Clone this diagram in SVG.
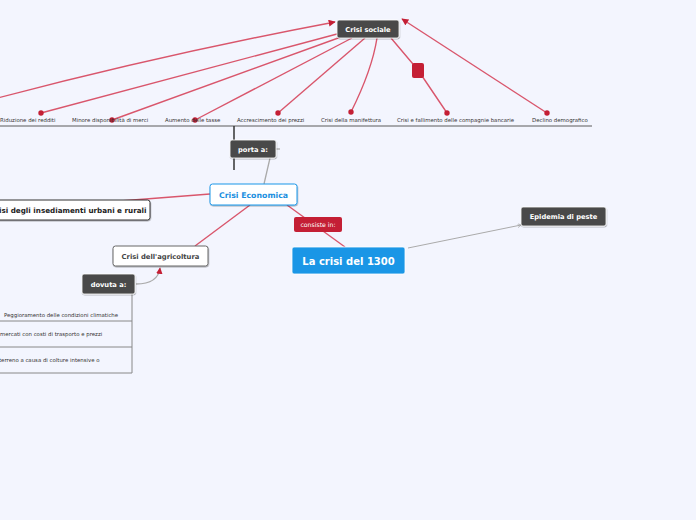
<svg xmlns="http://www.w3.org/2000/svg" width="696" height="520" viewBox="0 0 696 520">
<defs>
<filter id="sh" x="-20%" y="-20%" width="140%" height="160%"><feDropShadow dx="0.5" dy="1" stdDeviation="0.6" flood-color="#000" flood-opacity="0.3"/></filter>
<marker id="ar" viewBox="0 0 10 10" refX="9" refY="5" markerWidth="5" markerHeight="5" orient="auto"><path d="M0,0 L10,5 L0,10 z" fill="#c41f35"/></marker>
<marker id="ag" viewBox="0 0 10 10" refX="9" refY="5" markerWidth="4" markerHeight="4" orient="auto"><path d="M0,0 L10,5 L0,10" fill="none" stroke="#999" stroke-width="1.5"/></marker>
<style>
text{font-family:"DejaVu Sans","Liberation Sans",sans-serif}
.red{stroke:#d9566c;stroke-width:1.4;fill:none}
.gray{stroke:#aaa;stroke-width:1.3;fill:none}
.dot{fill:#c41f35}
.dark{fill:#4a4a48;stroke:#fff;stroke-width:0.8}
.wt{fill:#fff;font-weight:bold;font-size:6.7px}
.lbl{font-size:5.4px;fill:#333}
.ul{stroke:#5a5a5a;stroke-width:1}
</style>
</defs>
<rect width="696" height="520" fill="#f3f5fe"/>
<g id="connectors">
<path class="red" d="M-10,100 Q160,55 335,22" marker-end="url(#ar)"/>
<path class="red" d="M337,34 L41,113"/>
<path class="red" d="M341,37 L112,120"/>
<path class="red" d="M352,38 L195,120"/>
<path class="red" d="M365,38 L278,113"/>
<path class="red" d="M377,38 Q372,70 351,112"/>
<path class="red" d="M391,38 L418,70 L447,113"/>
<path class="red" d="M547,113 L402,19" marker-end="url(#ar)"/>
<line class="ul" x1="0" y1="126" x2="592" y2="126"/>
<line x1="234" y1="126" x2="234" y2="170" stroke="#333" stroke-width="1.5"/>
<path class="gray" d="M276,149 L280,149"/>
<path class="gray" d="M270,158 L264,184"/>
<path class="red" d="M210,194 L120,201"/>
<path class="red" d="M250,205 L195,246"/>
<path class="red" d="M287,205 L345,247"/>
<path d="M408,248 L521,225" stroke="#aaa" stroke-width="1" fill="none" marker-end="url(#ag)"/>
<path class="gray" d="M136,284 Q158,284 160,268" marker-end="url(#ar)"/>
<line x1="132" y1="294" x2="132" y2="373" stroke="#888" stroke-width="1"/>
<line x1="0" y1="321" x2="132" y2="321" stroke="#888" stroke-width="1"/>
<line x1="0" y1="347" x2="132" y2="347" stroke="#888" stroke-width="1"/>
<line x1="0" y1="373" x2="132" y2="373" stroke="#888" stroke-width="1"/>
</g>
<g id="dots">
<circle class="dot" cx="41" cy="113" r="2.7"/>
<circle class="dot" cx="112" cy="120" r="2.7"/>
<circle class="dot" cx="195" cy="120" r="2.7"/>
<circle class="dot" cx="278" cy="113" r="2.7"/>
<circle class="dot" cx="351" cy="112" r="2.7"/>
<circle class="dot" cx="447" cy="113" r="2.7"/>
<circle class="dot" cx="547" cy="113" r="2.7"/>
<rect x="412" y="63" width="12" height="15" rx="2" fill="#c41f35"/>
</g>
<g id="crisi-sociale"><rect class="dark" x="337" y="20" width="62" height="18" rx="2" filter="url(#sh)"/><text class="wt" x="368" y="31.8" text-anchor="middle">Crisi sociale</text></g>
<g id="labels-top">
<text class="lbl" x="0" y="122">Riduzione dei redditi</text>
<text class="lbl" x="72" y="122">Minore disponibilità di merci</text>
<text class="lbl" x="165" y="122">Aumento delle tasse</text>
<text class="lbl" x="237" y="122">Accrescimento dei prezzi</text>
<text class="lbl" x="321" y="122">Crisi della manifettura</text>
<text class="lbl" x="397" y="122">Crisi e fallimento delle compagnie bancarie</text>
<text class="lbl" x="532" y="122">Declino demografico</text>
</g>
<g id="porta"><rect class="dark" x="230" y="140" width="46" height="18" rx="2" filter="url(#sh)"/><text class="wt" x="253" y="151.8" text-anchor="middle">porta a:</text></g>
<g id="crisi-economica"><rect x="210" y="184" width="87" height="21" rx="2.5" fill="#fff" stroke="#1b96e8" stroke-width="1" filter="url(#sh)"/><text x="253.5" y="197.6" text-anchor="middle" font-size="7.8" font-weight="bold" fill="#1b8fe0">Crisi Economica</text></g>
<g id="insediamenti"><rect x="-10" y="200" width="160" height="20" rx="2.5" fill="#fff" stroke="#333" stroke-width="1" filter="url(#sh)"/><text x="-1" y="213" font-size="7.2" font-weight="bold" fill="#222">isi degli insediamenti urbani e rurali</text></g>
<g id="agricoltura"><rect x="113" y="246" width="95" height="20" rx="2.5" fill="#fff" stroke="#666" stroke-width="1" filter="url(#sh)"/><text x="160.5" y="259" text-anchor="middle" font-size="6.8" font-weight="bold" fill="#444">Crisi dell'agricoltura</text></g>
<g id="consiste"><rect x="294" y="217" width="48" height="15" rx="2" fill="#c41f35"/><text x="318" y="227" text-anchor="middle" font-size="6.2" fill="#fff">consiste in:</text></g>
<g id="crisi1300"><rect x="292" y="247" width="113" height="27" rx="2" fill="#1a96e6" stroke="#fff" stroke-width="0.8"/><text x="348.5" y="264.5" text-anchor="middle" font-size="10" font-weight="bold" fill="#fff">La crisi del 1300</text></g>
<g id="epidemia"><rect class="dark" x="521" y="207" width="85" height="19" rx="2" filter="url(#sh)"/><text class="wt" x="563.5" y="219.2" text-anchor="middle">Epidemia di peste</text></g>
<g id="dovuta"><rect class="dark" x="82" y="274" width="53" height="20" rx="2" filter="url(#sh)"/><text class="wt" x="108.5" y="286.7" text-anchor="middle">dovuta a:</text></g>
<g id="cause">
<text class="lbl" x="4" y="317">Peggioramento delle condizioni climatiche</text>
<text class="lbl" x="0" y="336">mercati con costi di trasporto e prezzi</text>
<text class="lbl" x="-1" y="362">terreno a causa di colture intensive o</text>
</g>
</svg>
